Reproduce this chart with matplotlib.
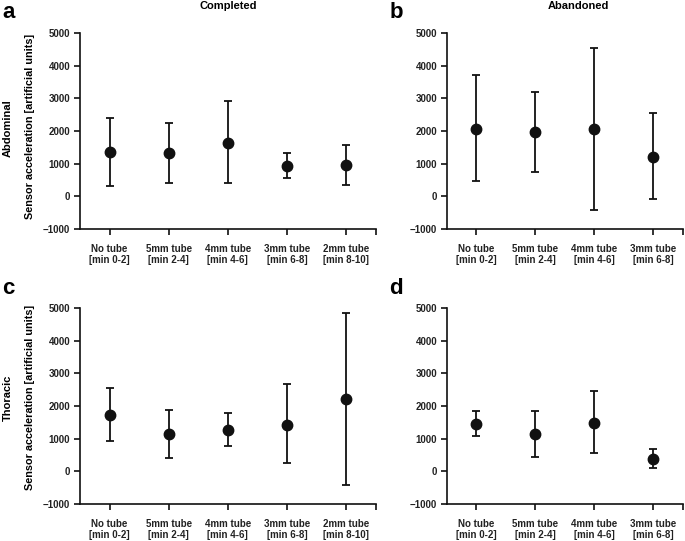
import numpy as np
import matplotlib
matplotlib.use('Agg')
import matplotlib.pyplot as plt

plt.rcParams['font.family'] = ['Liberation Sans', 'DejaVu Sans']
plt.rcParams['font.weight'] = 'bold'

# category labels
cats5 = ['No tube\n[min 0-2]', '5mm tube\n[min 2-4]', '4mm tube\n[min 4-6]',
         '3mm tube\n[min 6-8]', '2mm tube\n[min 8-10]']
cats4 = cats5[:4]

# panel a: abdominal, completed
a_mean = [1350, 1320, 1640, 920, 970]
a_hi = [2400, 2230, 2910, 1330, 1580]
a_lo = [330, 420, 400, 550, 360]

# panel b: abdominal, abandoned
b_mean = [2070, 1980, 2060, 1210]
b_hi = [3710, 3200, 4540, 2550]
b_lo = [470, 760, -430, -90]

# panel c: thoracic, completed
c_mean = [1710, 1130, 1280, 1430, 2210]
c_hi = [2540, 1880, 1790, 2660, 4840]
c_lo = [940, 400, 790, 240, -420]

# panel d: thoracic, abandoned
d_mean = [1450, 1140, 1490, 380]
d_hi = [1840, 1860, 2450, 690]
d_lo = [1080, 430, 560, 90]

W, H = 685, 541
fig = plt.figure(figsize=(W/100, H/100), dpi=100)

def box(x0, x1, ytop, ybot):
    return [x0/W, 1-ybot/H, (x1-x0)/W, (ybot-ytop)/H]

def panel(rect, cats, mean, hi, lo):
    ax = fig.add_axes(rect)
    x = np.arange(len(cats))
    mean = np.array(mean); hi = np.array(hi); lo = np.array(lo)
    err = [mean-lo, hi-mean]
    ax.errorbar(x, mean, yerr=err, fmt='o', color='#111111', ms=7.5,
                elinewidth=1.3, capsize=3, capthick=1.3)
    ax.set_xlim(-0.5, len(cats)-0.5)
    ax.set_ylim(-1000, 5000)
    ax.set_yticks(range(-1000, 5001, 1000))
    ax.set_xticks(x)
    ax.set_xticklabels(cats, fontsize=7, color='#222222', linespacing=1.15)
    ax.set_xticks([len(cats)-0.5], minor=True)
    for lab in ax.get_yticklabels():
        lab.set_fontsize(7)
        lab.set_color('#222222')
    for s in ['top', 'right']:
        ax.spines[s].set_visible(False)
    for s in ['left', 'bottom']:
        ax.spines[s].set_linewidth(1.2)
        ax.spines[s].set_color('#111111')
    ax.tick_params(axis='both', which='both', direction='out', length=4,
                   width=1.2, color='#111111')
    ax.tick_params(axis='x', pad=7)
    ax.tick_params(axis='y', pad=3)
    return ax

panel(box(80, 375.5, 33, 229), cats5, a_mean, a_hi, a_lo)
panel(box(447, 683, 33, 229), cats4, b_mean, b_hi, b_lo)
panel(box(80, 375.5, 308, 504), cats5, c_mean, c_hi, c_lo)
panel(box(447, 683, 308, 504), cats4, d_mean, d_hi, d_lo)

def txt(x, y, s, **kw):
    fig.text(x/W, 1-y/H, s, ha='center', va='center', fontweight='bold', **kw)

txt(228, 6, 'Completed', fontsize=8)
txt(578, 6, 'Abandoned', fontsize=8)
txt(9, 13, 'a', fontsize=16)
txt(396, 12, 'b', fontsize=16)
txt(8, 288, 'c', fontsize=16)
txt(396, 289, 'd', fontsize=16)
txt(8, 128, 'Abdominal', fontsize=8, rotation=90)
txt(8, 398, 'Thoracic', fontsize=8, rotation=90)
txt(30, 126, 'Sensor acceleration [artificial units]', fontsize=7.8, rotation=90)
txt(30, 397, 'Sensor acceleration [artificial units]', fontsize=7.8, rotation=90)

fig.savefig('out.png', dpi=100)
